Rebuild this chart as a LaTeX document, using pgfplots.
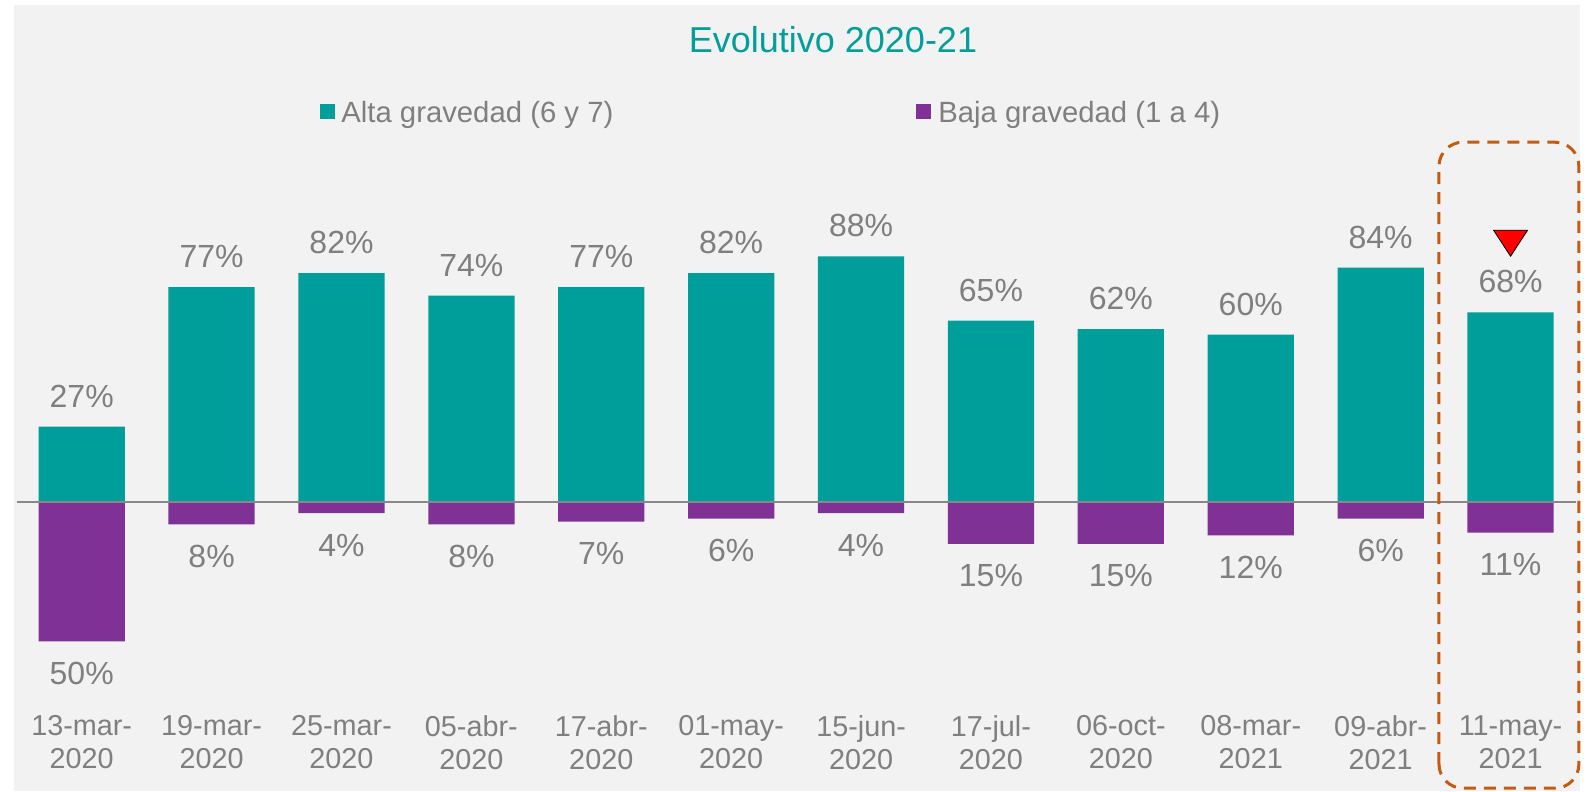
\documentclass[border=0pt]{standalone}
\usepackage{pgfplots}
\pgfplotsset{compat=1.18}
\usepackage{fontspec}
\setmainfont{Liberation Sans}

\definecolor{altac}{HTML}{009E9A}
\definecolor{bajac}{HTML}{7F3196}
\definecolor{txtc}{HTML}{7F7F7F}
\definecolor{linec}{HTML}{888888}
\definecolor{panelc}{HTML}{F2F2F2}
\definecolor{boxc}{HTML}{C55A11}

\begin{document}
\begin{tikzpicture}
\begin{axis}[
    set layers,
    scale only axis,
    width=796pt,
    height=395.5pt,
    xmin=-0.6289, xmax=11.627,
    ymin=-103.66, ymax=179.86,
    axis line style={draw=none},
    major tick length=0pt,
    ytick=\empty,
    xtick={0,...,11},
    xticklabels={{13-mar-\\2020},{19-mar-\\2020},{25-mar-\\2020},{05-abr-\\2020},
        {17-abr-\\2020},{01-may-\\2020},{15-jun-\\2020},{17-jul-\\2020},
        {06-oct-\\2020},{08-mar-\\2021},{09-abr-\\2021},{11-may-\\2021}},
    xticklabel style={align=center, text=txtc, anchor=north, inner sep=0pt,
        yshift=38pt, font=\fontsize{14.4}{16.5}\selectfont},
    clip=false,
]

% fondo
\begin{pgfonlayer}{axis background}
\fill[white] (axis cs:-0.6289,-103.66) rectangle (axis cs:11.627,179.86);
\fill[panelc] (axis cs:-0.521,-103.66) rectangle (axis cs:11.534,178.06);
\end{pgfonlayer}

% Alta gravedad
\addplot[
    ybar, bar shift=0pt, bar width=0.664,
    fill=altac, draw=none,
    nodes near coords, point meta=explicit symbolic,
    every node near coord/.append style={anchor=base, yshift=9.75pt,
        text=txtc, font=\fontsize{16}{18}\selectfont}
]
coordinates {
    (0,27)[27\%] (1,77)[77\%] (2,82)[82\%] (3,74)[74\%]
    (4,77)[77\%] (5,82)[82\%] (6,88)[88\%] (7,65)[65\%]
    (8,62)[62\%] (9,60)[60\%] (10,84)[84\%] (11,68)[68\%]
};

% Baja gravedad
\addplot[
    ybar, bar shift=0pt, bar width=0.664,
    fill=bajac, draw=none,
    nodes near coords, point meta=explicit symbolic,
    every node near coord/.append style={anchor=base, yshift=-21.5pt,
        text=txtc, font=\fontsize{16}{18}\selectfont}
]
coordinates {
    (0,-50)[50\%] (1,-8)[8\%] (2,-4)[4\%] (3,-8)[8\%]
    (4,-7)[7\%] (5,-6)[6\%] (6,-4)[4\%] (7,-15)[15\%]
    (8,-15)[15\%] (9,-12)[12\%] (10,-6)[6\%] (11,-11)[11\%]
};

% flecha roja
\addplot[
    only marks,
    mark=triangle*,
    mark size=8.67pt,
    mark options={fill=red, draw=none, rotate=180, xscale=1.13}
]
coordinates {(11,94.3)};

% eje cero
\draw[linec, line width=1.3pt] (axis cs:-0.5,0) -- (axis cs:11.5,0);

% recuadro ultimo dato
\draw[boxc, line width=1.5pt, dash pattern=on 6pt off 4pt, rounded corners=12pt]
    (axis cs:10.449,-102.6) rectangle (axis cs:11.526,128.96);

% titulo y leyenda
\node[anchor=base, text=altac, font=\fontsize{18}{21}\selectfont]
    at (axis cs:5.784,161.2) {Evolutivo 2020-21};
\node[fill=altac, minimum size=7.5pt, inner sep=0pt] at (axis cs:1.896,140.0) {};
\node[anchor=base west, inner sep=0pt, text=txtc, font=\fontsize{14.65}{17}\selectfont]
    at (axis cs:1.996,136.1) {Alta gravedad (6 y 7)};
\node[fill=bajac, minimum size=7.5pt, inner sep=0pt] at (axis cs:6.477,140.0) {};
\node[anchor=base west, inner sep=0pt, text=txtc, font=\fontsize{14.65}{17}\selectfont]
    at (axis cs:6.592,136.1) {Baja gravedad (1 a 4)};
\end{axis}
\end{tikzpicture}
\end{document}
